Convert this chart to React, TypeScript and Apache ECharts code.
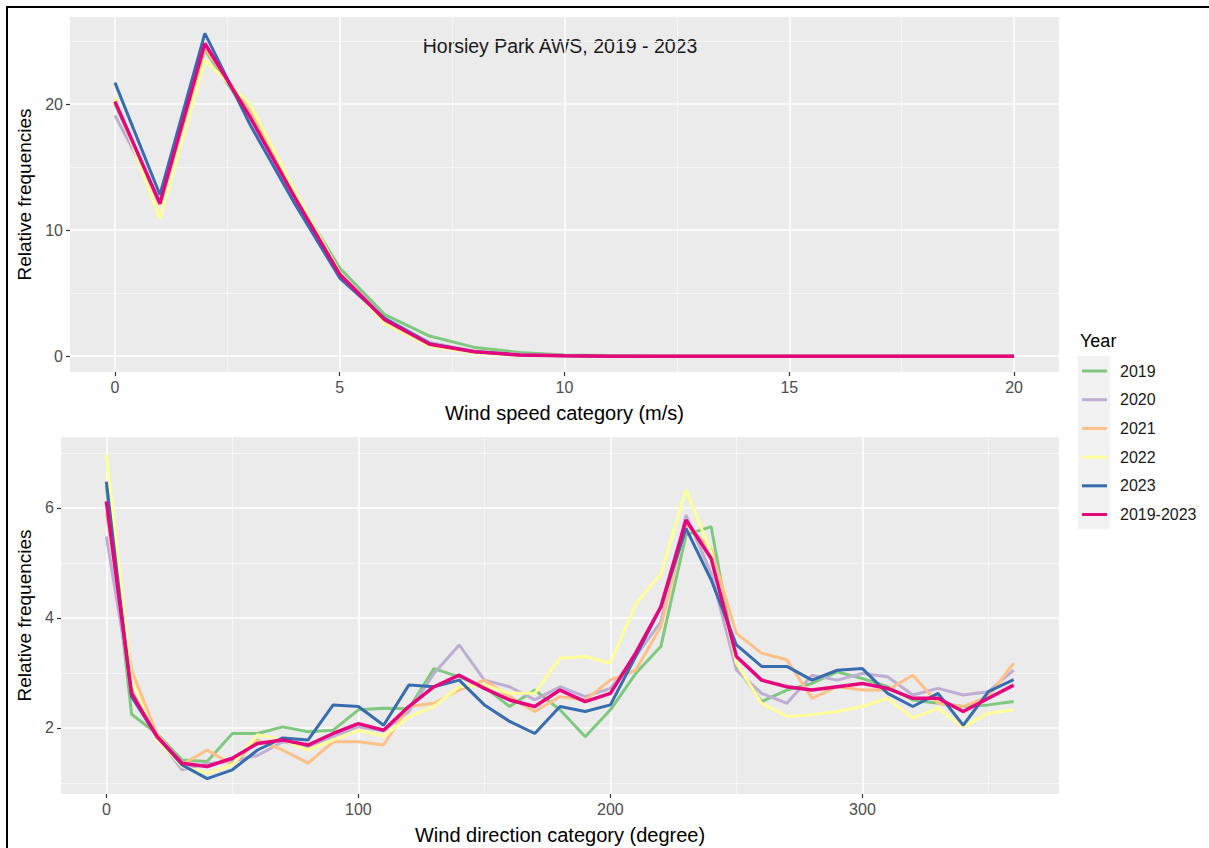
import React, { useEffect, useRef } from "react";
import * as echarts from "echarts";

const YEARS = ["2019", "2020", "2021", "2022", "2023", "2019-2023"];
const COLORS = ["#7FC97F", "#BEAED4", "#FDC086", "#FFFF99", "#386CB0", "#E5057D"];

// Wind speed panel
const SPEED_CATEGORIES = [0, 1, 2, 3, 4, 5, 6, 7, 8, 9, 10, 11, 12, 13, 14, 15, 16, 17, 18, 19, 20];
const SPEED_2019 = [20.0, 12.2, 24.3, 19.0, 12.8, 7.0, 3.3, 1.6, 0.7, 0.3, 0.1, 0.05, 0, 0, 0, 0, 0, 0, 0, 0, 0];
const SPEED_2020 = [19.1, 12.3, 24.6, 19.3, 12.6, 6.6, 3.0, 1.1, 0.4, 0.15, 0.05, 0, 0, 0, 0, 0, 0, 0, 0, 0, 0];
const SPEED_2021 = [20.2, 12.0, 24.4, 19.5, 12.8, 6.6, 2.8, 0.9, 0.3, 0.1, 0.05, 0, 0, 0, 0, 0, 0, 0, 0, 0, 0];
const SPEED_2022 = [20.5, 10.9, 23.5, 20.0, 13.1, 6.6, 2.6, 0.8, 0.25, 0.08, 0.02, 0, 0, 0, 0, 0, 0, 0, 0, 0, 0];
const SPEED_2023 = [21.7, 12.8, 25.6, 18.4, 12.1, 6.2, 3.0, 1.0, 0.35, 0.1, 0.03, 0, 0, 0, 0, 0, 0, 0, 0, 0, 0];
const SPEED_ALL = [20.2, 12.1, 24.8, 19.0, 12.6, 6.5, 2.9, 0.95, 0.35, 0.1, 0.03, 0, 0, 0, 0, 0, 0, 0, 0, 0, 0];

// Wind direction panel
const DIR_CATEGORIES = [0, 10, 20, 30, 40, 50, 60, 70, 80, 90, 100, 110, 120, 130, 140, 150, 160, 170, 180, 190, 200, 210, 220, 230, 240, 250, 260, 270, 280, 290, 300, 310, 320, 330, 340, 350, 360];
const DIR_2019 = [6.4, 2.25, 1.9, 1.42, 1.39, 1.9, 1.9, 2.02, 1.93, 1.96, 2.33, 2.36, 2.35, 3.08, 2.93, 2.75, 2.39, 2.69, 2.33, 1.84, 2.33, 2.99, 3.48, 5.51, 5.66, 3.12, 2.48, 2.69, 2.81, 3.02, 2.9, 2.75, 2.51, 2.45, 2.39, 2.42, 2.48];
const DIR_2020 = [5.48, 2.7, 1.85, 1.24, 1.35, 1.4, 1.5, 1.75, 1.66, 1.85, 2.02, 1.95, 2.3, 2.99, 3.51, 2.87, 2.75, 2.51, 2.75, 2.57, 2.72, 3.3, 3.93, 5.87, 4.81, 3.05, 2.63, 2.45, 2.96, 2.87, 2.99, 2.93, 2.6, 2.72, 2.6, 2.66, 3.05];
const DIR_2021 = [5.9, 3.05, 1.9, 1.33, 1.6, 1.33, 1.78, 1.6, 1.36, 1.75, 1.75, 1.69, 2.39, 2.45, 2.69, 2.87, 2.57, 2.3, 2.57, 2.51, 2.87, 3.05, 3.84, 5.72, 5.24, 3.72, 3.36, 3.24, 2.54, 2.75, 2.69, 2.69, 2.96, 2.45, 2.39, 2.57, 3.18];
const DIR_2022 = [6.98, 2.85, 1.8, 1.3, 1.18, 1.33, 1.88, 1.78, 1.6, 1.78, 1.96, 1.85, 2.2, 2.39, 2.75, 2.78, 2.63, 2.63, 3.27, 3.3, 3.18, 4.25, 4.8, 6.33, 5.18, 3.18, 2.45, 2.21, 2.24, 2.3, 2.39, 2.54, 2.18, 2.36, 2.02, 2.27, 2.33];
const DIR_2023 = [6.48, 2.57, 1.85, 1.33, 1.08, 1.24, 1.6, 1.82, 1.78, 2.42, 2.39, 2.05, 2.78, 2.75, 2.87, 2.42, 2.12, 1.9, 2.39, 2.3, 2.42, 3.3, 4.2, 5.63, 4.69, 3.51, 3.12, 3.12, 2.87, 3.05, 3.08, 2.63, 2.39, 2.63, 2.05, 2.66, 2.88];
const DIR_ALL = [6.12, 2.63, 1.85, 1.36, 1.3, 1.45, 1.72, 1.78, 1.69, 1.9, 2.08, 1.96, 2.39, 2.75, 2.96, 2.72, 2.51, 2.39, 2.69, 2.48, 2.63, 3.36, 4.2, 5.78, 5.08, 3.3, 2.87, 2.75, 2.69, 2.75, 2.81, 2.72, 2.54, 2.54, 2.3, 2.54, 2.78];

// Tick labels
const SPEED_TICKS = [0, 5, 10, 15, 20];
const SPEED_MINOR = [2.5, 7.5, 12.5, 17.5];
const SPEED_FREQ_TICKS = [0, 10, 20];
const SPEED_FREQ_MINOR = [5, 15, 25];
const DIR_TICKS = [0, 100, 200, 300];
const DIR_MINOR = [50, 150, 250, 350];
const DIR_FREQ_TICKS = [2, 4, 6];
const DIR_FREQ_MINOR = [1, 3, 5, 7];

const SPEED_SERIES = [SPEED_2019, SPEED_2020, SPEED_2021, SPEED_2022, SPEED_2023, SPEED_ALL];
const DIR_SERIES = [DIR_2019, DIR_2020, DIR_2021, DIR_2022, DIR_2023, DIR_ALL];

const FONT = "'Liberation Sans', Arial, Helvetica, sans-serif";

function majorAxis(gridIndex: number, min: number, max: number, ticks: number[], name: string, nameGap: number, nameSize: number) {
  return {
    type: "value",
    gridIndex,
    min,
    max,
    name,
    nameLocation: "middle",
    nameGap,
    nameTextStyle: { color: "#000", fontSize: nameSize, fontFamily: FONT },
    axisLine: { show: false, onZero: false },
    axisTick: { show: true, length: 4, customValues: ticks, lineStyle: { color: "#333", width: 1.2 } },
    axisLabel: { show: true, customValues: ticks, color: "#4d4d4d", fontSize: 16, fontFamily: FONT, margin: 7 },
    splitLine: { show: true, lineStyle: { color: "#ffffff", width: 1.6 } },
    minorTick: { show: false },
    minorSplitLine: { show: false },
  };
}

function minorAxis(gridIndex: number, min: number, max: number, ticks: number[]) {
  return {
    type: "value",
    gridIndex,
    min,
    max,
    axisLine: { show: false, onZero: false },
    axisTick: { show: false, customValues: ticks },
    axisLabel: { show: false, customValues: ticks },
    splitLine: { show: true, lineStyle: { color: "#f7f7f7", width: 0.9 } },
  };
}

export default function App() {
  const ref = useRef<HTMLDivElement>(null);

  useEffect(() => {
    if (!ref.current) return;
    const chart = echarts.init(ref.current, null, { renderer: "svg" });

    const series: any[] = [];
    YEARS.forEach((name, i) => {
      const width = i === 5 ? 3.5 : 3;
      series.push({
        name,
        type: "line",
        xAxisIndex: 0,
        yAxisIndex: 0,
        data: SPEED_CATEGORIES.map((c, k) => [c, SPEED_SERIES[i][k]]),
        showSymbol: false,
        symbol: "none",
        lineStyle: { color: COLORS[i], width },
        itemStyle: { color: COLORS[i] },
        z: 2 + i,
      });
      series.push({
        name,
        type: "line",
        xAxisIndex: 2,
        yAxisIndex: 2,
        data: DIR_CATEGORIES.map((c, k) => [c, DIR_SERIES[i][k]]),
        showSymbol: false,
        symbol: "none",
        lineStyle: { color: COLORS[i], width },
        itemStyle: { color: COLORS[i] },
        z: 2 + i,
      });
    });

    const option: any = {
      animation: false,
      backgroundColor: "#ffffff",
      textStyle: { fontFamily: FONT },
      grid: [
        { left: 70, top: 17, width: 989, height: 355, show: true, backgroundColor: "#ebebeb", borderWidth: 0 },
        { left: 61, top: 437, width: 998, height: 357, show: true, backgroundColor: "#ebebeb", borderWidth: 0 },
      ],
      xAxis: [
        majorAxis(0, -1, 21, SPEED_TICKS, "Wind speed category (m/s)", 31, 20),
        minorAxis(0, -1, 21, SPEED_MINOR),
        majorAxis(1, -18, 378, DIR_TICKS, "Wind direction category (degree)", 31, 20),
        minorAxis(1, -18, 378, DIR_MINOR),
      ],
      yAxis: [
        majorAxis(0, -1.25, 26.9, SPEED_FREQ_TICKS, "Relative frequencies", 30, 19),
        minorAxis(0, -1.25, 26.9, SPEED_FREQ_MINOR),
        majorAxis(1, 0.8, 7.29, DIR_FREQ_TICKS, "Relative frequencies", 22, 19),
        minorAxis(1, 0.8, 7.29, DIR_FREQ_MINOR),
      ],
      legend: {
        orient: "vertical",
        left: 1082,
        top: 361,
        padding: 0,
        itemWidth: 25,
        itemHeight: 3,
        itemGap: 8.7,
        icon: "rect",
        data: YEARS,
        selectedMode: false,
        textStyle: { color: "#1a1a1a", fontSize: 16, fontFamily: FONT, lineHeight: 20, padding: [0, 0, 0, 8] },
      },
      graphic: [
        {
          type: "rect",
          shape: { x: 7, y: 7, width: 1230, height: 870 },
          style: { fill: "none", stroke: "#000", lineWidth: 2 },
          silent: true,
        },
        {
          type: "rect",
          shape: { x: 1078, y: 356, width: 32, height: 173 },
          style: { fill: "#f2f2f2" },
          silent: true,
        },
        {
          type: "text",
          x: 560,
          y: 46,
          style: { text: "Horsley Park AWS, 2019 - 2023", fill: "#1a1a1a", fontSize: 19.5, fontFamily: FONT, align: "center", verticalAlign: "middle" },
          silent: true,
        },
        {
          type: "text",
          x: 1080,
          y: 341,
          style: { text: "Year", fill: "#000", fontSize: 18, fontFamily: FONT, align: "left", verticalAlign: "middle" },
          silent: true,
        },
      ],
      series,
    };

    chart.setOption(option);
    return () => chart.dispose();
  }, []);

  return (
    <div
      ref={ref}
      style={{ position: "absolute", left: 0, top: 0, width: 1209, height: 848, background: "#fff" }}
    />
  );
}
